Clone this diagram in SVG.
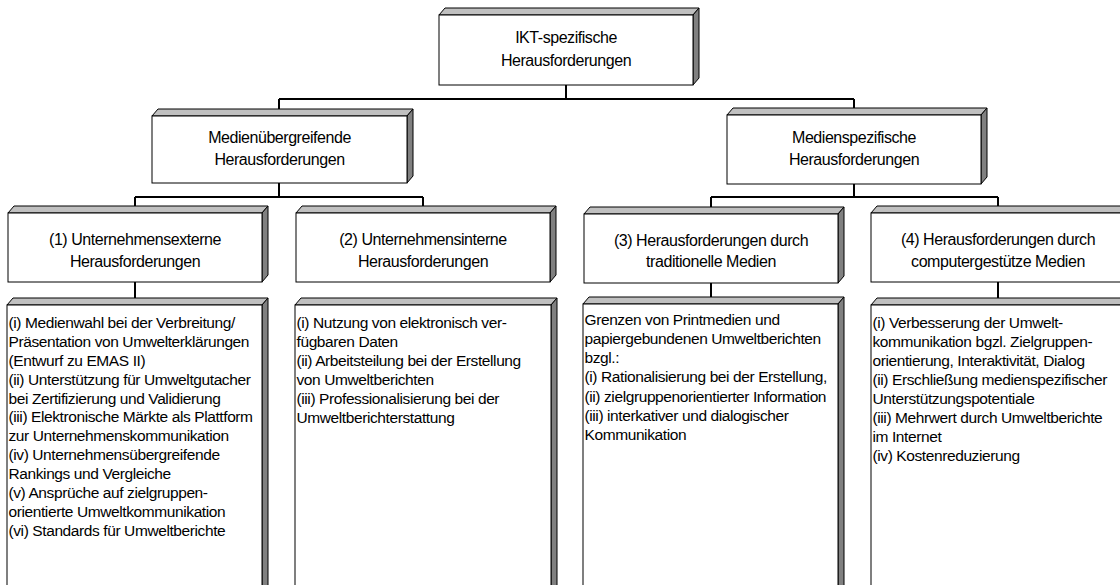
<svg xmlns="http://www.w3.org/2000/svg" width="1120" height="585" viewBox="0 0 1120 585">
<style>
.front{fill:#fff;stroke:#000;stroke-width:1}
.top{fill:#c0c0c0;stroke:#000;stroke-width:1}
.side{fill:#808080;stroke:#000;stroke-width:1}
.conn{fill:none;stroke:#000;stroke-width:2}
.h{font-family:"Liberation Sans",Arial,sans-serif;font-size:16px;letter-spacing:-0.45px;fill:#000;text-anchor:middle}
.c{font-family:"Liberation Sans",Arial,sans-serif;font-size:15.5px;letter-spacing:-0.4px;fill:#000}
</style>
<rect width="1120" height="585" fill="#fff"/>
<g id="connectors">
<path class="conn" d="M566,85V99M279,99H854M279,99V109M854,99V108"/>
<path class="conn" d="M279,183V197M135,197H423M135,197V206M423,197V206"/>
<path class="conn" d="M854,184V197M711,197H998M711,197V207M998,197V206"/>
<path class="conn" d="M135,282V298M711,283V297M998,282V298"/>
</g>
<g id="n0">
<polygon class="top" points="439,15 445,8 699,8 693,15"/>
<polygon class="side" points="693,15 699,8 699,78 693,85"/>
<rect class="front" x="439" y="15" width="254" height="70"/>
<text class="h" x="566" y="43">IKT-spezifische</text>
<text class="h" x="566" y="66">Herausforderungen</text>
</g>
<g id="n1">
<polygon class="top" points="152,116 158,109 413,109 407,116"/>
<polygon class="side" points="407,116 413,109 413,176 407,183"/>
<rect class="front" x="152" y="116" width="255" height="67"/>
<text class="h" x="279.5" y="143">Medienübergreifende</text>
<text class="h" x="279.5" y="165">Herausforderungen</text>
</g>
<g id="n2">
<polygon class="top" points="727,115 733,108 987,108 981,115"/>
<polygon class="side" points="981,115 987,108 987,177 981,184"/>
<rect class="front" x="727" y="115" width="254" height="69"/>
<text class="h" x="854" y="143">Medienspezifische</text>
<text class="h" x="854" y="165">Herausforderungen</text>
</g>
<g id="n3">
<polygon class="top" points="8,213 14,206 268,206 262,213"/>
<polygon class="side" points="262,213 268,206 268,275 262,282"/>
<rect class="front" x="8" y="213" width="254" height="69"/>
<text class="h" x="135" y="245">(1) Unternehmensexterne</text>
<text class="h" x="135" y="267">Herausforderungen</text>
</g>
<g id="n4">
<polygon class="top" points="296,213 302,206 556,206 550,213"/>
<polygon class="side" points="550,213 556,206 556,275 550,282"/>
<rect class="front" x="296" y="213" width="254" height="69"/>
<text class="h" x="423" y="245">(2) Unternehmensinterne</text>
<text class="h" x="423" y="267">Herausforderungen</text>
</g>
<g id="n5">
<polygon class="top" points="584,214 590,207 844,207 838,214"/>
<polygon class="side" points="838,214 844,207 844,276 838,283"/>
<rect class="front" x="584" y="214" width="254" height="69"/>
<text class="h" x="711" y="246">(3) Herausforderungen durch</text>
<text class="h" x="711" y="267">traditionelle Medien</text>
</g>
<g id="n6">
<polygon class="top" points="871,213 877,206 1131,206 1125,213"/>
<polygon class="side" points="1125,213 1131,206 1131,275 1125,282"/>
<rect class="front" x="871" y="213" width="254" height="69"/>
<text class="h" x="998" y="245">(4) Herausforderungen durch</text>
<text class="h" x="998" y="267">computergestütze Medien</text>
</g>
<g id="n7">
<polygon class="top" points="7,305 13,298 268,298 262,305"/>
<polygon class="side" points="262,305 268,298 268,600 262,600"/>
<rect class="front" x="7" y="305" width="255" height="300"/>
<text class="c" x="8.5" y="328">(i) Medienwahl bei der Verbreitung/</text>
<text class="c" x="8.5" y="347">Präsentation von Umwelterklärungen</text>
<text class="c" x="8.5" y="366">(Entwurf zu EMAS II)</text>
<text class="c" x="8.5" y="385">(ii) Unterstützung für Umweltgutacher</text>
<text class="c" x="8.5" y="404">bei Zertifizierung und Validierung</text>
<text class="c" x="8.5" y="422">(iii) Elektronische Märkte als Plattform</text>
<text class="c" x="8.5" y="441">zur Unternehmenskommunikation</text>
<text class="c" x="8.5" y="460">(iv) Unternehmensübergreifende</text>
<text class="c" x="8.5" y="479">Rankings und Vergleiche</text>
<text class="c" x="8.5" y="498">(v) Ansprüche auf zielgruppen-</text>
<text class="c" x="8.5" y="517">orientierte Umweltkommunikation</text>
<text class="c" x="8.5" y="536">(vi) Standards für Umweltberichte</text>
</g>
<g id="n8">
<polygon class="top" points="295,305 301,298 557,298 551,305"/>
<polygon class="side" points="551,305 557,298 557,600 551,600"/>
<rect class="front" x="295" y="305" width="256" height="300"/>
<text class="c" x="296.5" y="328">(i) Nutzung von elektronisch ver-</text>
<text class="c" x="296.5" y="347">fügbaren Daten</text>
<text class="c" x="296.5" y="366">(ii) Arbeitsteilung bei der Erstellung</text>
<text class="c" x="296.5" y="385">von Umweltberichten</text>
<text class="c" x="296.5" y="404">(iii) Professionalisierung bei der</text>
<text class="c" x="296.5" y="423">Umweltberichterstattung</text>
</g>
<g id="n9">
<polygon class="top" points="583,304 589,297 844,297 838,304"/>
<polygon class="side" points="838,304 844,297 844,600 838,600"/>
<rect class="front" x="583" y="304" width="255" height="300"/>
<text class="c" x="584.5" y="325">Grenzen von Printmedien und</text>
<text class="c" x="584.5" y="344">papiergebundenen Umweltberichten</text>
<text class="c" x="584.5" y="363">bzgl.:</text>
<text class="c" x="584.5" y="382">(i) Rationalisierung bei der Erstellung,</text>
<text class="c" x="584.5" y="402">(ii) zielgruppenorientierter Information</text>
<text class="c" x="584.5" y="421">(iii) interkativer und dialogischer</text>
<text class="c" x="584.5" y="440">Kommunikation</text>
</g>
<g id="n10">
<polygon class="top" points="871,305 877,298 1131,298 1125,305"/>
<polygon class="side" points="1125,305 1131,298 1131,600 1125,600"/>
<rect class="front" x="871" y="305" width="254" height="300"/>
<text class="c" x="872.5" y="328">(i) Verbesserung der Umwelt-</text>
<text class="c" x="872.5" y="347">kommunikation bgzl. Zielgruppen-</text>
<text class="c" x="872.5" y="366">orientierung, Interaktivität, Dialog</text>
<text class="c" x="872.5" y="385">(ii) Erschließung medienspezifischer</text>
<text class="c" x="872.5" y="404">Unterstützungspotentiale</text>
<text class="c" x="872.5" y="423">(iii) Mehrwert durch Umweltberichte</text>
<text class="c" x="872.5" y="442">im Internet</text>
<text class="c" x="872.5" y="461">(iv) Kostenreduzierung</text>
</g>
</svg>
